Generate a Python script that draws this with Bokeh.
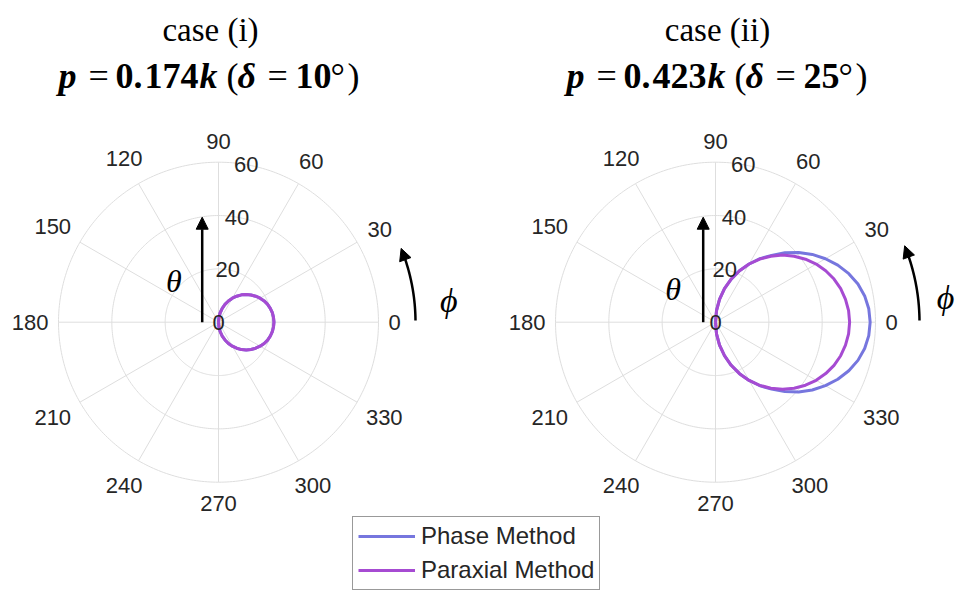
import numpy as np
from bokeh.plotting import figure
from bokeh.models import Range1d, Legend, LegendItem, Arrow, NormalHead
from bokeh.embed import file_html
from bokeh.resources import INLINE
from bokeh.core.properties import value

# ---------------- data ----------------
phi_deg = [-90, -85, -80, -75, -70, -65, -60, -55, -50, -45, -40, -35, -30, -25, -20, -15, -10, -5,
           0, 5, 10, 15, 20, 25, 30, 35, 40, 45, 50, 55, 60, 65, 70, 75, 80, 85, 90]

case_i_phase = [0.0, 1.8, 3.6, 5.4, 7.1, 8.8, 10.4, 11.9, 13.4, 14.7, 15.9, 17.0, 18.0, 18.9, 19.6, 20.1, 20.5, 20.7,
                20.8, 20.7, 20.5, 20.1, 19.6, 18.9, 18.0, 17.0, 15.9, 14.7, 13.4, 11.9, 10.4, 8.8, 7.1, 5.4, 3.6, 1.8, 0.0]
case_i_paraxial = [0.0, 1.8, 3.6, 5.4, 7.1, 8.8, 10.4, 11.9, 13.4, 14.7, 15.9, 17.0, 18.0, 18.9, 19.6, 20.1, 20.5, 20.7,
                   20.8, 20.7, 20.5, 20.1, 19.6, 18.9, 18.0, 17.0, 15.9, 14.7, 13.4, 11.9, 10.4, 8.8, 7.1, 5.4, 3.6, 1.8, 0.0]
case_ii_phase = [0.0, 4.4, 8.7, 13.0, 17.2, 21.3, 25.2, 29.1, 32.7, 36.8, 40.7, 44.3, 47.6, 50.6, 53.2, 55.3, 56.8, 57.7,
                 58.0, 57.7, 56.8, 55.3, 53.2, 50.6, 47.6, 44.3, 40.7, 36.8, 32.7, 29.1, 25.2, 21.3, 17.2, 13.0, 8.7, 4.4, 0.0]
case_ii_paraxial = [0.0, 4.4, 8.7, 13.0, 17.2, 21.3, 25.2, 28.9, 32.3, 35.6, 38.5, 41.2, 43.6, 45.6, 47.3, 48.6, 49.5, 50.1,
                    50.3, 50.1, 49.5, 48.6, 47.3, 45.6, 43.6, 41.2, 38.5, 35.6, 32.3, 28.9, 25.2, 21.3, 17.2, 13.0, 8.7, 4.4, 0.0]

theta_ticks = [0, 30, 60, 90, 120, 150, 180, 210, 240, 270, 300, 330]
theta_labels = ["0", "30", "60", "90", "120", "150", "180", "210", "240", "270", "300", "330"]
r_ticks = [0, 20, 40, 60]
r_labels = ["0", "20", "40", "60"]
r_max = 60

titles = ["case (i)", "case (ii)"]
p_int = ["0.", "0."]
p_frac = ["174", "423"]
delta_deg = ["10", "25"]
series_names = ["Phase Method", "Paraxial Method"]

# ---------------- layout ----------------
W, H = 959, 593
S = r_max / 160.0          # data units per pixel
CX0, CY0 = 218.0, 321.7    # pixel position of left polar centre
CXR = 715.0                # pixel position of right polar centre


def P(px, py):
    return ((px - CX0) * S, (CY0 - py) * S)


p = figure(width=W, height=H, output_backend="svg", toolbar_location=None,
           x_range=Range1d(-CX0 * S, (W - CX0) * S), y_range=Range1d(-(H - CY0) * S, CY0 * S),
           min_border=0, min_border_left=0, min_border_right=0, min_border_top=0, min_border_bottom=0)
p.axis.visible = False
p.grid.visible = False
p.outline_line_color = None
p.background_fill_color = "white"
p.border_fill_color = "white"

GRID = "#dedede"
TXT = "#262626"
BLUE = "#7676de"
PURPLE = "#a64bd2"
TICK_FS = 22

centres = [0.0, (CXR - CX0) * S]
phis = np.radians(phi_deg)
data_sets = [(case_i_phase, case_i_paraxial), (case_ii_phase, case_ii_paraxial)]
renderers = []

for k, cx in enumerate(centres):
    t = np.linspace(0, 2 * np.pi, 361)
    for rr in r_ticks[1:]:
        p.line(cx + rr * np.cos(t), rr * np.sin(t), line_color=GRID, line_width=1)
    for a in theta_ticks:
        ar = np.radians(a)
        p.line([cx, cx + r_max * np.cos(ar)], [0, r_max * np.sin(ar)], line_color=GRID, line_width=1)

    ph, pa = data_sets[k]
    ph = np.array(ph)
    pa = np.array(pa)
    rb = p.line(cx + ph * np.cos(phis), ph * np.sin(phis), line_color=BLUE, line_width=3)
    rp = p.line(cx + pa * np.cos(phis), pa * np.sin(phis), line_color=PURPLE, line_width=3)
    renderers.append((rb, rp))

    R0 = 170.0
    for a, lab in zip(theta_ticks, theta_labels):
        ar = np.radians(a)
        w = len(lab) * 0.556 * TICK_FS
        h = TICK_FS
        rpx = R0 + 0.5 * w * abs(np.cos(ar)) + 0.5 * h * abs(np.sin(ar))
        p.text([cx + rpx * S * np.cos(ar)], [rpx * S * np.sin(ar)], text=[lab],
               text_align="center", text_baseline="middle", text_color=TXT,
               text_font=value("Liberation Sans"), text_font_size=f"{TICK_FS}px")

    ra = np.radians(80)
    for rr, lab in zip(r_ticks, r_labels):
        p.text([cx + rr * np.cos(ra)], [rr * np.sin(ra)], text=[lab],
               text_align="center", text_baseline="middle", text_color=TXT,
               text_font=value("Liberation Sans"), text_font_size=f"{TICK_FS}px")

# titles
title_x = [210, 717]
sub_start = [58, 566]
for k in range(2):
    x, y = P(title_x[k], 29)
    p.text([x], [y], text=[titles[k]], text_align="center", text_baseline="alphabetic",
           text_color="black", text_font=value("Liberation Serif"), text_font_size="33px")
    parts = [("p", 0, "bold italic"), ("=", 30, "normal"), (p_int[k], 57, "bold"),
             (p_frac[k], 86, "bold"), ("k", 141, "bold italic"), ("(", 168, "normal"),
             ("\u03b4", 179, "bold italic"), ("=", 209, "normal"), (delta_deg[k], 237, "bold"),
             ("\u00b0", 272, "normal"), (")", 289, "normal")]
    for txt, off, style in parts:
        x, y = P(sub_start[k] + off, 75)
        p.text([x], [y], text=[txt], text_align="left", text_baseline="alphabetic",
               text_color="black", text_font=value("Liberation Serif"), text_font_size="36px",
               text_font_style=style)

# arrows and symbols
theta_arrow_dx = [-16.3, -12.3]
theta_lab = [(173.3, 280), (672.7, 288)]
phi_arc_r = [197.0, 204.0]
phi_lab = [(448.3, 300), (945, 297)]
for k, cx in enumerate(centres):
    xa = cx + theta_arrow_dx[k] * S
    p.add_layout(Arrow(end=NormalHead(size=12, fill_color="black", line_color="black", line_width=1),
                       x_start=xa, y_start=0, x_end=xa, y_end=105 * S,
                       line_color="black", line_width=2.5))
    x, y = P(theta_lab[k][0], theta_lab[k][1])
    p.text([x], [y], text=["\u03b8"], text_align="center", text_baseline="middle", text_color="black",
           text_font=value("Liberation Serif"), text_font_size="32px", text_font_style="italic")
    rr = phi_arc_r[k] * S
    ang = np.radians(np.linspace(0.5, 19, 40))
    p.line(cx + rr * np.cos(ang), rr * np.sin(ang), line_color="black", line_width=2.5)
    a1, a2 = np.radians(18.5), np.radians(22)
    p.add_layout(Arrow(end=NormalHead(size=12, fill_color="black", line_color="black", line_width=1),
                       x_start=cx + rr * np.cos(a1), y_start=rr * np.sin(a1),
                       x_end=cx + rr * np.cos(a2), y_end=rr * np.sin(a2),
                       line_color="black", line_width=2.5))
    x, y = P(phi_lab[k][0], phi_lab[k][1])
    p.text([x], [y], text=["\u03d5"], text_align="center", text_baseline="middle", text_color="black",
           text_font=value("Liberation Serif"), text_font_size="34px", text_font_style="italic")

legend = Legend(items=[LegendItem(label=series_names[0], renderers=[renderers[1][0]]),
                       LegendItem(label=series_names[1], renderers=[renderers[1][1]])],
                location=(352, 3), orientation="vertical",
                glyph_width=57, glyph_height=28, label_height=28, label_standoff=6,
                padding=5, spacing=6, margin=0,
                label_text_font="Liberation Sans", label_text_font_size="24px", label_text_color=TXT,
                border_line_color="#333333", border_line_width=1,
                background_fill_color="white", background_fill_alpha=1)
p.add_layout(legend)

open("out.html", "w").write(file_html(p, INLINE))
